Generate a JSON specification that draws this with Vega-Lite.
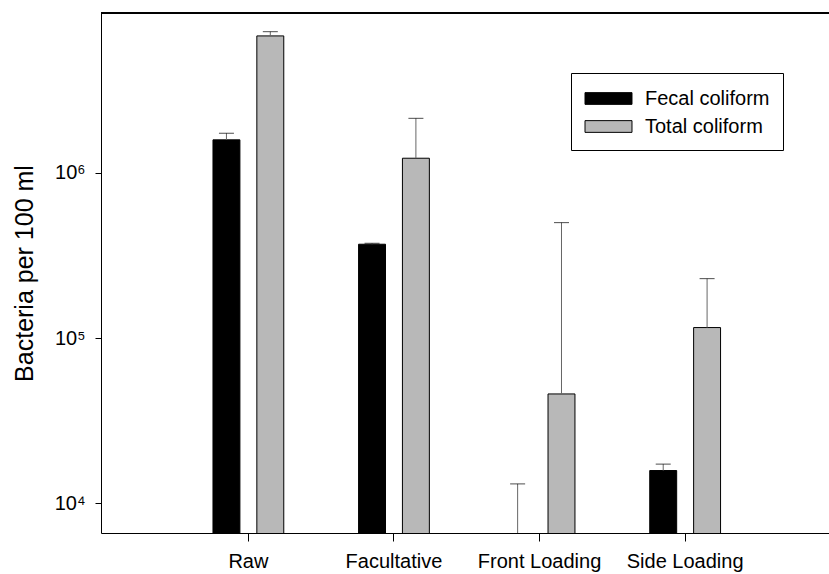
{
  "$schema": "https://vega.github.io/schema/vega-lite/v6.json",
  "width": 728,
  "height": 520,
  "autosize": {"type": "none"},
  "padding": {"left": 101, "top": 13, "right": 0, "bottom": 41},
  "background": "white",
  "config": {
    "font": "Liberation Sans",
    "view": {"stroke": null},
    "axis": {"grid": false, "domainColor": "black", "tickColor": "black", "labelColor": "black", "titleColor": "black", "labelFontSize": 20, "titleFontSize": 20, "titleFontWeight": "normal"}
  },
  "data": {
    "values": [
      {"site": "Raw", "type": "Fecal coliform", "value": 1585000, "upper": 1738000},
      {"site": "Raw", "type": "Total coliform", "value": 6750000, "upper": 7160000},
      {"site": "Facultative", "type": "Fecal coliform", "value": 370000, "upper": 375000},
      {"site": "Facultative", "type": "Total coliform", "value": 1227000, "upper": 2140000},
      {"site": "Front Loading", "type": "Fecal coliform", "value": 3000, "upper": 13100},
      {"site": "Front Loading", "type": "Total coliform", "value": 45900, "upper": 500000},
      {"site": "Side Loading", "type": "Fecal coliform", "value": 15780, "upper": 17260},
      {"site": "Side Loading", "type": "Total coliform", "value": 115800, "upper": 229000}
    ]
  },
  "encoding": {
    "x": {
      "field": "site", "type": "nominal",
      "sort": ["Raw", "Facultative", "Front Loading", "Side Loading"],
      "scale": {"paddingInner": 0.5137, "paddingOuter": 0.757, "align": 0.508},
      "axis": {"title": null, "labelAngle": 0, "tickSize": 8, "labelPadding": 10, "domainColor": "black"}
    },
    "xOffset": {
      "field": "type", "type": "nominal",
      "sort": ["Fecal coliform", "Total coliform"],
      "scale": {"paddingInner": 0.386, "paddingOuter": 0}
    }
  },
  "layer": [
    {
      "mark": {"type": "bar", "clip": true, "stroke": "black", "strokeWidth": 1},
      "encoding": {
        "y": {
          "field": "value", "type": "quantitative",
          "scale": {"type": "log", "domain": [6607, 9290000], "nice": false},
          "axis": {
            "title": "Bacteria per 100 ml",
            "titleFontSize": 25,
            "values": [10000, 100000, 1000000],
            "labelExpr": "datum.value == 10000 ? '10⁴' : datum.value == 100000 ? '10⁵' : '10⁶'",
            "tickSize": 6, "labelPadding": 10, "titlePadding": 17
          }
        },
        "y2": {"datum": 1000},
        "fill": {
          "field": "type", "type": "nominal",
          "scale": {"domain": ["Fecal coliform", "Total coliform"], "range": ["black", "#b8b8b8"]},
          "legend": {
            "title": null, "orient": "none", "legendX": 470, "legendY": 60,
            "symbolType": "M-2,-0.5H2V0.5H-2Z", "symbolSize": 552,
            "symbolOffset": 12,
            "symbolStrokeColor": "black", "symbolStrokeWidth": 1,
            "labelFontSize": 20, "labelColor": "black", "labelOffset": 24,
            "labelExpr": "datum.label + '\u00a0\u00a0'",
            "padding": 13, "rowPadding": 5,
            "strokeColor": "black", "fillColor": "white"
          }
        }
      }
    },
    {
      "mark": {"type": "rule", "clip": true, "color": "#666666", "strokeWidth": 1},
      "encoding": {
        "y": {"field": "value", "type": "quantitative"},
        "y2": {"field": "upper"}
      }
    },
    {
      "mark": {"type": "tick", "clip": true, "color": "black", "size": 15, "thickness": 1, "orient": "horizontal"},
      "encoding": {
        "y": {"field": "upper", "type": "quantitative"}
      }
    },
    {
      "mark": {"type": "rule", "color": "black", "strokeWidth": 1},
      "encoding": {
        "y": {"datum": 9290000, "type": "quantitative"},
        "x": null,
        "xOffset": null
      }
    }
  ]
}
